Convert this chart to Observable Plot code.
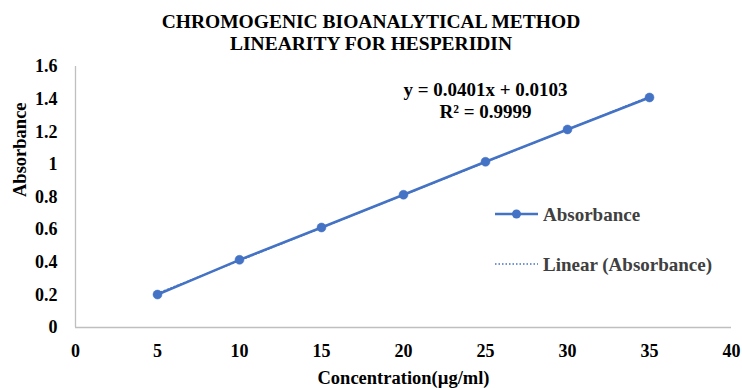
<!DOCTYPE html>
<html>
<head>
<meta charset="utf-8">
<script src="https://cdn.jsdelivr.net/npm/d3@7"></script>
<script src="https://cdn.jsdelivr.net/npm/@observablehq/plot@0.6"></script>
<style>
  html, body { margin: 0; padding: 0; background: #fff; }
  #wrap { position: relative; width: 742px; height: 388px; overflow: hidden; font-family: 'Liberation Serif', 'Times New Roman', serif; }
  #title { height: 58px; box-sizing: border-box; padding-top: 11px; text-align: center; font-weight: bold; font-size: 19.5px; line-height: 22px; color: #000; }
  #title div { white-space: nowrap; }
  #legend { position: absolute; left: 0; top: 0; pointer-events: none; }
</style>
</head>
<body>
<div id="wrap">
  <div id="title"></div>
  <div id="chart"></div>
  <svg id="legend" width="742" height="388"></svg>
</div>
<script>
// ---- data ----
const titleLines = ["CHROMOGENIC BIOANALYTICAL METHOD", "LINEARITY FOR HESPERIDIN"];
const concentration = [5, 10, 15, 20, 25, 30, 35];
const absorbance = [0.202, 0.415, 0.613, 0.814, 1.016, 1.214, 1.41];
const xTicks = [0, 5, 10, 15, 20, 25, 30, 35, 40];
const yTicks = [0, 0.2, 0.4, 0.6, 0.8, 1, 1.2, 1.4, 1.6];
const xLabel = "Concentration(µg/ml)";
const yLabel = "Absorbance";
const equationLines = ["y = 0.0401x + 0.0103", "R² = 0.9999"];
const seriesNames = ["Absorbance", "Linear (Absorbance)"];

const blue = "#4472C4";
const data = concentration.map((c, i) => ({c, a: absorbance[i]}));

document.getElementById("title").innerHTML = titleLines.map(t => `<div>${t}</div>`).join("");

const chart = Plot.plot({
  width: 742,
  height: 330,
  marginTop: 8,
  marginBottom: 61,
  marginLeft: 75,
  marginRight: 11,
  style: {fontFamily: "'Liberation Serif', 'Times New Roman', serif", fontSize: "18px", fontWeight: "bold", color: "#000", background: "transparent", overflow: "visible"},
  x: {domain: [0, 40], ticks: xTicks, tickSize: 0, tickPadding: 17, label: null},
  y: {domain: [0, 1.6], ticks: yTicks, tickSize: 0, tickPadding: 18, label: null, tickFormat: d => String(+d.toFixed(1))},
  marks: [
    Plot.ruleY([0], {stroke: "#bfbfbf", strokeWidth: 1.3}),
    Plot.ruleX([0], {stroke: "#bfbfbf", strokeWidth: 1.3}),
    Plot.linearRegressionY(data, {x: "c", y: "a", ci: 0, stroke: blue, strokeWidth: 1.5, strokeDasharray: "1.5,2"}),
    Plot.line(data, {x: "c", y: "a", stroke: blue, strokeWidth: 2.5}),
    Plot.dot(data, {x: "c", y: "a", r: 4.5, fill: blue, stroke: blue, strokeWidth: 0.5}),
    Plot.text([equationLines.join("\n")], {frameAnchor: "top", dx: 82, dy: 51, lineAnchor: "bottom", lineHeight: 1.15, fontSize: 19, fontWeight: "bold", fill: "#000", textAnchor: "middle"}),
    Plot.text([xLabel], {frameAnchor: "bottom", dy: 56, lineAnchor: "bottom", fontSize: 18.5, fontWeight: "bold", fill: "#000"}),
    Plot.text([yLabel], {frameAnchor: "left", dx: -50, rotate: -90, lineAnchor: "bottom", fontSize: 18.5, fontWeight: "bold", fill: "#000"})
  ]
});
document.getElementById("chart").appendChild(chart);

// ---- legend (overlay) ----
const lg = d3.select("#legend");
const items = [
  {y: 214, dotted: false},
  {y: 264, dotted: true}
];
items.forEach((it, i) => {
  const line = lg.append("line").attr("x1", 495).attr("x2", 538).attr("y1", it.y).attr("y2", it.y)
    .attr("stroke", blue);
  if (it.dotted) {
    line.attr("stroke-width", 1.5).attr("stroke-dasharray", "1.5,2");
  } else {
    line.attr("stroke-width", 2.5);
    lg.append("circle").attr("cx", 516.5).attr("cy", it.y).attr("r", 4.5).attr("fill", blue);
  }
  lg.append("text").attr("x", 543).attr("y", it.y + 7)
    .attr("font-family", "'Liberation Serif', 'Times New Roman', serif")
    .attr("font-size", 19).attr("font-weight", "bold").attr("fill", "#404040")
    .text(seriesNames[i]);
});
</script>
</body>
</html>
